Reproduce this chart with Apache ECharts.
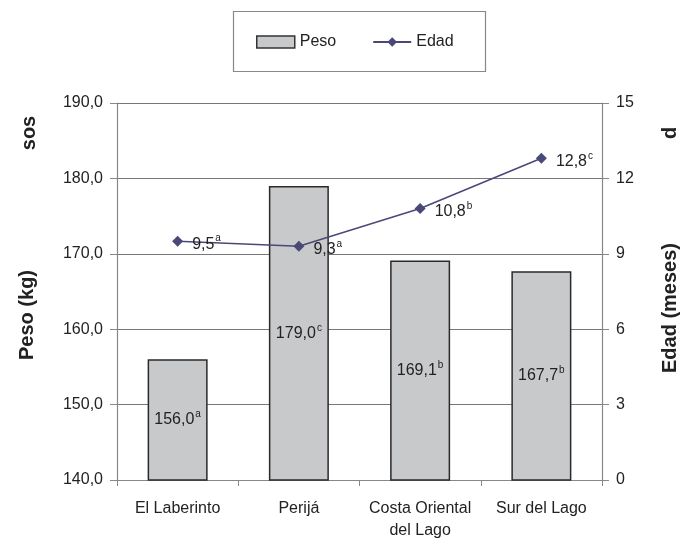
<!DOCTYPE html>
<html>
<head>
<meta charset="utf-8">
<script src="https://cdn.jsdelivr.net/npm/echarts@6/dist/echarts.min.js"></script>
<style>html,body{margin:0;padding:0;background:#fff;}#c{width:695px;height:542px;}</style>
</head>
<body>
<div id="c"></div>
<script>
var categories = ['El Laberinto', 'Perijá', 'Costa Oriental\ndel Lago', 'Sur del Lago'];
var pesoValues = [156.0, 179.0, 169.1, 167.7];
var pesoLetters = ['a', 'c', 'b', 'b'];
var edadValues = [9.5, 9.3, 10.8, 12.8];
var edadLetters = ['a', 'a', 'b', 'c'];
var leftTicks = [140, 150, 160, 170, 180, 190];
var rightTicks = [0, 3, 6, 9, 12, 15];

var FONT = '"Liberation Sans", Arial, sans-serif';
function comma(v) { return v.toFixed(1).replace('.', ','); }
var rich = {
  v: { fontSize: 16, fontFamily: FONT, color: '#222' },
  s: { fontSize: 10, fontFamily: FONT, color: '#222', verticalAlign: 'top', padding: [0, 0, 11, 1] }
};

var chart = echarts.init(document.getElementById('c'), null, { renderer: 'canvas' });
chart.setOption({
  animation: false,
  backgroundColor: '#fff',
  textStyle: { fontFamily: FONT },
  grid: { left: 117, right: 93, top: 103, bottom: 60, containLabel: false },
  legend: {
    left: 251, top: 29, itemGap: 36, itemWidth: 38, itemHeight: 12, itemTextGap: 4,
    textStyle: { fontSize: 16, color: '#222', fontFamily: FONT },
    data: [
      { name: 'Peso', icon: 'rect', itemStyle: { color: '#c8c9cb', borderColor: '#333', borderWidth: 1.5 } },
      { name: 'Edad' }
    ]
  },
  graphic: [
    { type: 'rect', left: 231, top: 9, shape: { width: 252, height: 60 }, style: { fill: 'none', stroke: '#888', lineWidth: 1.2 } },
    { type: 'text', x: 27, y: 315, rotation: Math.PI / 2, style: { text: 'Peso (kg)', font: 'bold 20px ' + FONT, fill: '#222', textAlign: 'center', textVerticalAlign: 'middle' } },
    { type: 'text', x: 29, y: 133, rotation: Math.PI / 2, style: { text: 'sos', font: 'bold 20px ' + FONT, fill: '#222', textAlign: 'center', textVerticalAlign: 'middle' } },
    { type: 'text', x: 670, y: 308, rotation: Math.PI / 2, style: { text: 'Edad (meses)', font: 'bold 20px ' + FONT, fill: '#222', textAlign: 'center', textVerticalAlign: 'middle' } },
    { type: 'text', x: 670, y: 133, rotation: Math.PI / 2, style: { text: 'd', font: 'bold 20px ' + FONT, fill: '#222', textAlign: 'center', textVerticalAlign: 'middle' } }
  ],
  xAxis: {
    type: 'category', data: categories,
    axisLine: { lineStyle: { color: '#888', width: 1.2 } },
    axisTick: { show: true, alignWithLabel: false, length: 6, lineStyle: { color: '#888' } },
    axisLabel: { fontSize: 16, color: '#222', margin: 18, lineHeight: 22, fontFamily: FONT, interval: 0 }
  },
  yAxis: [
    {
      type: 'value', min: leftTicks[0], max: leftTicks[leftTicks.length - 1], interval: 10,
      axisLine: { show: true, lineStyle: { color: '#888', width: 1.2 } },
      axisTick: { show: true, length: 7, lineStyle: { color: '#888' } },
      splitLine: { show: true, lineStyle: { color: '#777', width: 1.2 } },
      axisLabel: { fontSize: 16, color: '#222', margin: 14, fontFamily: FONT, formatter: function (v) { return comma(v); } }
    },
    {
      type: 'value', min: rightTicks[0], max: rightTicks[rightTicks.length - 1], interval: 3,
      axisLine: { show: true, lineStyle: { color: '#888', width: 1.2 } },
      axisTick: { show: true, length: 7, lineStyle: { color: '#888' } },
      splitLine: { show: false },
      axisLabel: { fontSize: 16, color: '#222', margin: 14, fontFamily: FONT }
    }
  ],
  series: [
    {
      name: 'Peso', type: 'bar', yAxisIndex: 0, barWidth: 60,
      itemStyle: { color: '#c8c9cb', borderColor: '#2a2a2a', borderWidth: 1.5 },
      data: pesoValues.map(function (v, i) {
        return {
          value: v,
          label: { show: true, position: 'inside', formatter: '{v|' + comma(v) + '}{s|' + pesoLetters[i] + '}', rich: rich }
        };
      })
    },
    {
      name: 'Edad', type: 'line', yAxisIndex: 1,
      symbol: 'diamond', symbolSize: 11,
      lineStyle: { color: '#4a4878', width: 1.5 },
      itemStyle: { color: '#4a4878' },
      z: 5,
      data: edadValues.map(function (v, i) {
        return {
          value: v,
          label: { show: true, position: 'right', distance: 9, offset: [0, 3], formatter: '{v|' + comma(v) + '}{s|' + edadLetters[i] + '}', rich: rich }
        };
      })
    }
  ]
});
</script>
</body>
</html>
